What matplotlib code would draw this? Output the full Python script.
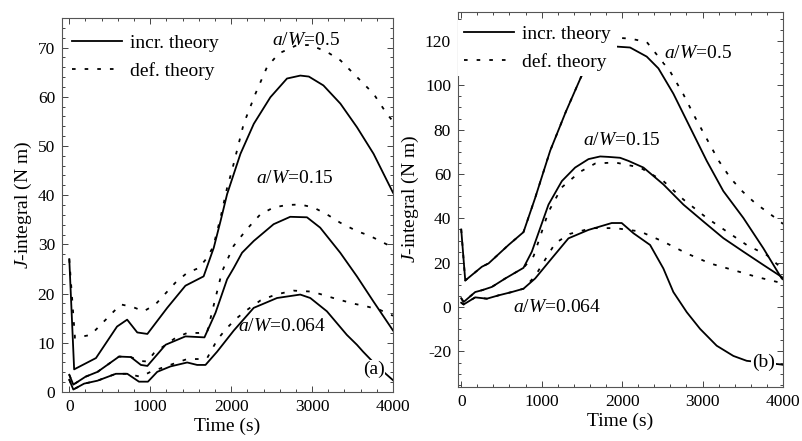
import matplotlib
matplotlib.use("Agg")
import matplotlib.pyplot as plt
from matplotlib.ticker import MultipleLocator

plt.rcParams['font.family'] = ['Liberation Serif', 'DejaVu Serif']
plt.rcParams['mathtext.fontset'] = 'custom'
plt.rcParams['mathtext.rm'] = 'Liberation Serif'
plt.rcParams['mathtext.it'] = 'Liberation Serif:italic'
plt.rcParams['axes.unicode_minus'] = False

# ---------------- panel (a) data ----------------
a_inc_05_t = [0, 60, 330, 590, 715, 840, 965, 1210, 1435, 1660, 1785, 1870, 1950, 2115, 2280, 2485,
              2690, 2855, 2960, 3140, 3350, 3555, 3760, 4000]
a_inc_05_J = [27, 4.6, 6.9, 13.3, 14.7, 12.1, 11.8, 17.1, 21.6, 23.5, 29.3, 34.8, 40.2, 48.4, 54.5, 59.9,
              63.7, 64.3, 64.1, 62.3, 58.6, 53.8, 48.4, 40.5]

a_def_05_t = [0, 70, 265, 510, 635, 780, 920, 1065, 1310, 1455, 1600, 1705, 1780, 1870, 1950, 2010,
              2155, 2300, 2445, 2590, 2815, 2980, 3185, 3350, 3555, 3760, 3925, 4000]
a_def_05_J = [27, 11.0, 11.6, 15.7, 17.8, 17.3, 16.4, 17.8, 22.2, 24.2, 25.2, 27.3, 29.6, 35.5, 41.5, 45.0,
              54.5, 60.6, 66.1, 68.8, 70.5, 70.5, 69.1, 67.4, 64.0, 60.6, 56.5, 55.0]

a_inc_015_t = [0, 50, 200, 350, 615, 760, 885, 965, 1190, 1435, 1670, 1807, 1950, 2032, 2135, 2280,
               2525, 2730, 2937, 3100, 3348, 3554, 3758, 4000]
a_inc_015_J = [3.5, 1.5, 3.1, 4.1, 7.2, 7.1, 5.5, 5.3, 9.6, 11.3, 11.1, 16.1, 22.9, 25.2, 28.3, 30.7,
               34.1, 35.6, 35.5, 33.4, 28.3, 23.5, 18.4, 12.5]

a_def_015_t = [0, 50, 200, 350, 615, 760, 880, 965, 1046, 1313, 1457, 1601, 1704, 1805, 1888, 2031,
               2195, 2361, 2525, 2690, 2854, 3018, 3183, 3348, 3554, 3718, 3923, 4000]
a_def_015_J = [3.5, 1.5, 3.1, 4.1, 7.2, 7.1, 6.3, 6.2, 7.9, 11.0, 12.0, 12.0, 12.2, 19.0, 24.5, 29.7,
               33.1, 36.1, 37.5, 38.0, 38.1, 37.5, 36.1, 34.4, 32.7, 31.7, 30.0, 29.5]

a_inc_0064_t = [0, 50, 183, 349, 575, 717, 861, 972, 1087, 1251, 1457, 1580, 1683, 1827, 2033, 2279,
                2567, 2854, 2978, 3183, 3430, 3554, 3630, 3800, 4000]
a_inc_0064_J = [2.5, 0.5, 1.7, 2.3, 3.7, 3.7, 2.1, 2.1, 4.1, 5.2, 6.0, 5.5, 5.5, 8.2, 12.5, 17.1,
                19.1, 19.8, 19.1, 16.4, 11.6, 9.6, 8.2, 5.3, 2.4]

a_def_0064_t = [0, 50, 183, 349, 575, 717, 881, 1005, 1333, 1457, 1601, 1704, 1828, 1931, 2054, 2198,
                2362, 2550, 2770, 3000, 3262, 3500, 3672, 3836, 4000]
a_def_0064_J = [2.5, 0.5, 1.7, 2.3, 3.7, 3.7, 3.1, 4.1, 6.0, 6.7, 6.7, 6.9, 10.6, 12.7, 14.8, 16.7,
                18.6, 19.8, 20.6, 20.4, 19.1, 18.0, 17.4, 16.7, 15.5]

# ---------------- panel (b) data ----------------
b_inc_05_t = [0, 50, 257, 340, 588, 774, 919, 1106, 1300, 1499, 1789, 1934, 2099, 2306, 2451, 2637,
              2845, 3052, 3258, 3507, 3756, 3984, 4000]
b_inc_05_J = [35, 12, 18.2, 19.7, 28.0, 33.8, 49.2, 70.5, 88, 104.5, 115.9, 117.4, 117, 112.9, 107.6, 96.2,
              81, 65.9, 52.3, 40.2, 26.5, 12.9, 12.5]

b_def_05_t = [0, 50, 257, 340, 588, 774, 919, 1106, 1300, 1499, 1700, 1892, 2100, 2306, 2470, 2600,
              2760, 2900, 3050, 3200, 3350, 3500, 3650, 3800, 3950, 4000]
b_def_05_J = [35, 12, 18.2, 19.7, 28.0, 33.8, 49.2, 70.5, 88, 104.5, 117, 121.5, 121, 119.5, 112, 106,
              96, 86, 76, 66, 58, 52, 47, 43, 39, 37.5]

b_inc_015_t = [0, 30, 174, 257, 381, 547, 774, 878, 1085, 1251, 1416, 1582, 1727, 1830, 1975, 2079,
               2265, 2513, 2762, 3010, 3258, 3507, 3756, 3984, 4000]
b_inc_015_J = [4, 2.3, 6.8, 7.6, 9.1, 12.9, 17.7, 25, 46.2, 56.8, 62.9, 66.7, 67.9, 67.7, 67.3, 65.9,
               62.9, 55.3, 46.2, 38.6, 31.1, 25, 19, 13.6, 13.2]

b_def_015_t = [0, 30, 174, 257, 381, 547, 774, 900, 1085, 1251, 1478, 1665, 1913, 2224, 2513, 2762,
               3052, 3300, 3549, 3797, 4000]
b_def_015_J = [4, 2.3, 6.8, 7.6, 9.1, 12.9, 17.7, 23, 43, 54, 61, 64.7, 65.2, 62.9, 56.8, 48.5,
               40.2, 34.1, 28, 23.5, 17]

b_inc_0064_t = [0, 30, 174, 319, 464, 629, 774, 919, 1126, 1333, 1582, 1871, 1995, 2141, 2348, 2513,
                2637, 2804, 2969, 3176, 3383, 3549, 3756, 3963, 4000]
b_inc_0064_J = [2, 1.2, 4.4, 3.8, 5.3, 6.8, 8.3, 12.9, 22, 31, 34.8, 37.9, 37.9, 33.3, 28, 17.4,
                6.8, -2.3, -9.8, -17.4, -22, -24.2, -25, -25.8, -26]

b_def_0064_t = [0, 30, 174, 319, 464, 629, 774, 919, 1168, 1350, 1623, 1913, 2224, 2513, 2804, 3093,
                3383, 3673, 3922, 4000]
b_def_0064_J = [2, 1.2, 4.4, 3.8, 5.3, 6.8, 8.3, 14, 28.8, 33, 35.6, 35.6, 34.1, 29.5, 24.2, 19.7,
                16.7, 13.6, 11.4, 11]

legend_labels = ["incr. theory", "def. theory"]
curve_labels = [r"$a/W$=0.5", r"$a/W$=0.15", r"$a/W$=0.064"]

DOT = (0, (2, 5))
LW = 1.3

fig = plt.figure(figsize=(8.02, 4.41), dpi=100)
axa = fig.add_axes([62/802, 49/441, 331/802, 374/441])
axb = fig.add_axes([458/802, 54/441, 325/802, 375/441])

def style(ax, ymaj, ymin):
    ax.xaxis.set_major_locator(MultipleLocator(1000))
    ax.xaxis.set_minor_locator(MultipleLocator(200))
    ax.yaxis.set_major_locator(MultipleLocator(ymaj))
    ax.yaxis.set_minor_locator(MultipleLocator(ymin))
    ax.tick_params(which='both', direction='in', top=True, right=True, labelsize=12.5,
                   color='#444444', width=0.7)
    ax.tick_params(which='major', length=4.5, pad=5)
    ax.tick_params(which='minor', length=2.5)
    for s in ax.spines.values():
        s.set_linewidth(0.8)
        s.set_color('#555555')
    ax.set_xlabel("Time (s)", fontsize=14, labelpad=2)
    ax.set_ylabel(r"$J$-integral (N m)", fontsize=14, labelpad=3)

# panel a
la, = axa.plot(a_inc_05_t, a_inc_05_J, color='black', lw=LW)
ld, = axa.plot(a_def_05_t, a_def_05_J, color='black', lw=LW, linestyle=DOT)
axa.plot(a_inc_015_t, a_inc_015_J, color='black', lw=LW)
axa.plot(a_def_015_t, a_def_015_J, color='black', lw=LW, linestyle=DOT)
axa.plot(a_inc_0064_t, a_inc_0064_J, color='black', lw=LW)
axa.plot(a_def_0064_t, a_def_0064_J, color='black', lw=LW, linestyle=DOT)
axa.set_xlim(-90, 4000)
axa.set_ylim(0, 76)
style(axa, 10, 2)
axa.text(2926, 71.5, curve_labels[0], fontsize=14, ha='center', va='center')
axa.text(2790, 43.3, curve_labels[1], fontsize=14, ha='center', va='center')
axa.text(2626, 13.3, curve_labels[2], fontsize=14, ha='center', va='center')
axa.text(3760, 4.6, "(a)", fontsize=14, ha='center', va='center',
         bbox=dict(facecolor='white', edgecolor='none', pad=0.5))
axa.legend([la, ld], legend_labels, loc='upper left', bbox_to_anchor=(0.012, 0.972),
           fontsize=14, handlelength=2.6, handletextpad=0.4, labelspacing=0.5,
           borderaxespad=0.0, borderpad=0.3, frameon=False)

# panel b
lb, = axb.plot(b_inc_05_t, b_inc_05_J, color='black', lw=LW)
lbd, = axb.plot(b_def_05_t, b_def_05_J, color='black', lw=LW, linestyle=DOT)
axb.plot(b_inc_015_t, b_inc_015_J, color='black', lw=LW)
axb.plot(b_def_015_t, b_def_015_J, color='black', lw=LW, linestyle=DOT)
axb.plot(b_inc_0064_t, b_inc_0064_J, color='black', lw=LW)
axb.plot(b_def_0064_t, b_def_0064_J, color='black', lw=LW, linestyle=DOT)
axb.set_xlim(-40, 4000)
axb.set_ylim(-36, 133)
style(axb, 20, 5)
axb.text(2948, 114.4, curve_labels[0], fontsize=14, ha='center', va='center',
         bbox=dict(facecolor='white', edgecolor='none', pad=0.5))
axb.text(1996, 75, curve_labels[1], fontsize=14, ha='center', va='center')
axb.text(1189, 0, curve_labels[2], fontsize=14, ha='center', va='center')
axb.text(3756, -25, "(b)", fontsize=14, ha='center', va='center',
         bbox=dict(facecolor='white', edgecolor='none', pad=0.5))
legb = axb.legend([lb, lbd], legend_labels, loc='upper left', bbox_to_anchor=(0.0, 0.98),
                  fontsize=14, handlelength=2.6, handletextpad=0.4, labelspacing=0.5,
                  borderaxespad=0.0, borderpad=0.3, frameon=True, fancybox=False,
                  facecolor='white', edgecolor='none', framealpha=1.0)
legb.set_zorder(5)

fig.savefig("out.png", dpi=100, facecolor='white')
